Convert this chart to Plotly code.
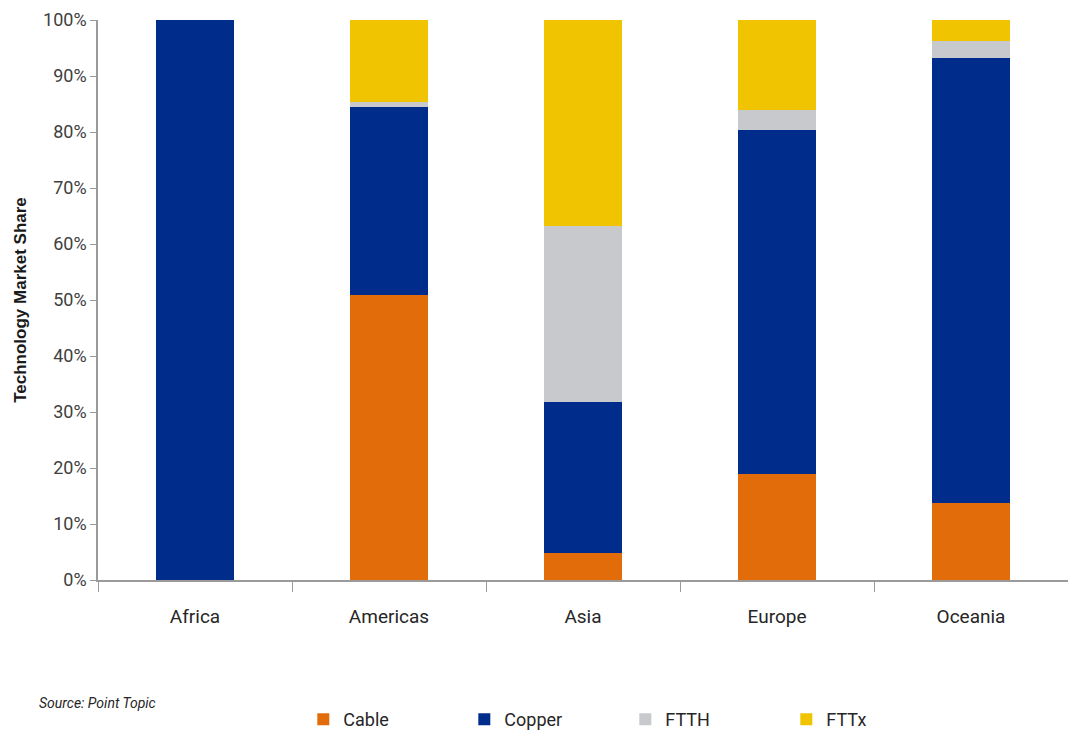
import plotly.graph_objects as go

regions = ["Africa", "Americas", "Asia", "Europe", "Oceania"]
cable = [0.0, 50.9, 4.9, 18.9, 13.7]
copper = [100.0, 33.5, 26.9, 61.5, 79.6]
ftth = [0.0, 1.0, 31.4, 3.5, 3.0]
fttx = [0.0, 14.6, 36.8, 16.1, 3.7]
y_ticks = [0, 10, 20, 30, 40, 50, 60, 70, 80, 90, 100]

series = [
    ("Cable", cable, "#E36C0A"),
    ("Copper", copper, "#002D8C"),
    ("FTTH", ftth, "#C8C9CC"),
    ("FTTx", fttx, "#F0C400"),
]

font_narrow = "Liberation Sans Narrow, Arial Narrow, Roboto, Arial, sans-serif"

fig = go.Figure()
for name, vals, col in series:
    fig.add_trace(go.Bar(
        x=regions, y=vals, name=name,
        marker=dict(color=col, line=dict(width=0)),
    ))

fig.update_layout(
    barmode="stack",
    bargap=0.6,
    width=1068, height=734,
    margin=dict(l=98, r=0, t=20, b=154),
    plot_bgcolor="white",
    paper_bgcolor="white",
    font=dict(family=font_narrow, color="#262626"),
    showlegend=True,
    legend=dict(
        orientation="h",
        xref="container", yref="container",
        x=0.284, y=0.045, xanchor="left", yanchor="top",
        font=dict(size=18, family=font_narrow, color="#262626"),
        entrywidth=116, entrywidthmode="pixels",
        itemsizing="constant",
        traceorder="normal",
    ),
    xaxis=dict(
        range=[-0.5, 4.5],
        showline=True, linecolor="#9a9a9a", linewidth=1.5,
        ticks="outside", tickson="boundaries", ticklen=10, tickcolor="#9a9a9a",
        tickfont=dict(size=19, family=font_narrow, color="#262626"),
        ticklabelstandoff=18,
        showgrid=False,
    ),
    yaxis=dict(
        range=[0, 100],
        tickvals=y_ticks,
        ticktext=[f"{v}%" for v in y_ticks],
        showline=True, linecolor="#9a9a9a", linewidth=1.5,
        ticks="outside", ticklen=6, tickcolor="#9a9a9a",
        tickfont=dict(size=18, family=font_narrow, color="#404040"),
        showgrid=False, zeroline=False,
        title=dict(text="<b>Technology Market Share</b>",
                   font=dict(size=17, family="Arial, Liberation Sans, sans-serif", color="#1a1a1a"),
                   standoff=12),
    ),
)

fig.add_annotation(
    text="<i>Source: Point Topic</i>",
    xref="paper", yref="paper", x=-0.063, y=-0.22,
    xanchor="left", yanchor="middle", showarrow=False,
    font=dict(size=14, family=font_narrow, color="#262626"),
)

fig.write_html("out.html")
